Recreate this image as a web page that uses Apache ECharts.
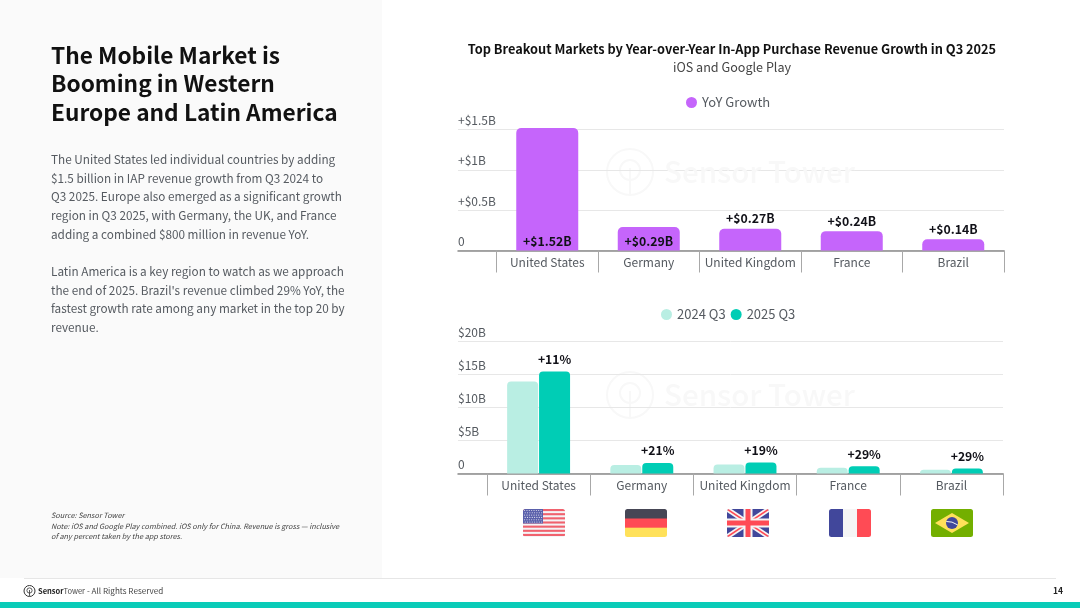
<!DOCTYPE html>
<html><head><meta charset="utf-8">
<style>html,body{margin:0;padding:0;background:#fff}#c{width:1080px;height:608px}</style>
<script src="https://cdn.jsdelivr.net/npm/echarts@6/dist/echarts.min.js"></script>
</head><body><div id="c"></div>
<script>
const FONT='"Noto Sans CJK SC","Noto Sans",sans-serif';
const categories=['United States','Germany','United Kingdom','France','Brazil'];
const yoyGrowth=[1.52,0.29,0.27,0.24,0.14];
const yoyInside=[true,true,false,false,false];
const revenue2024=[13.9,1.3,1.35,0.85,0.55];
const revenue2025=[15.4,1.6,1.65,1.1,0.75];
const growthPct=['+11%','+21%','+19%','+29%','+29%'];
const yoyTicks=['0','+$0.5B','+$1B','+$1.5B'];
const revTicks=['0','$5B','$10B','$15B','$20B'];
const headline=['The Mobile Market is','Booming in Western','Europe and Latin America'];
const body=[
 ['The United States led individual countries by adding',160],
 ['$1.5 billion in IAP revenue growth from Q3 2024 to',178.5],
 ['Q3 2025. Europe also emerged as a significant growth',197],
 ['region in Q3 2025, with Germany, the UK, and France',216],
 ['adding a combined $800 million in revenue YoY.',234.5],
 ['Latin America is a key region to watch as we approach',272],
 ['the end of 2025. Brazil\'s revenue climbed 29% YoY, the',290.5],
 ['fastest growth rate among any market in the top 20 by',309],
 ['revenue.',327.5]];
const notes=['Source: Sensor Tower','Note: iOS and Google Play combined. iOS only for China. Revenue is gross — inclusive','of any percent taken by the app stores.'];

const PURPLE='#c565fb',TEAL='#00cdb5',MINT='#b9eee3',INK='#555a60',DARK='#111118';

function txt(t,x,y,size,opt){return Object.assign({type:'text',silent:true,z:5,style:Object.assign({text:t,x:x,y:y,fontSize:size,fontFamily:FONT,fill:INK,verticalAlign:'middle',align:'left'},opt||{})});}
function svgUri(inner){return 'data:image/svg+xml;utf8,'+encodeURIComponent('<svg xmlns="http://www.w3.org/2000/svg" width="168" height="112" viewBox="0 0 42 28"><defs><clipPath id="r"><rect width="42" height="28" rx="2.5"/></clipPath></defs><g clip-path="url(#r)">'+inner+'</g></svg>');}
let usStripes='<rect width="42" height="28" fill="#f4f4f6"/>';
for(let i=0;i<7;i++)usStripes+='<rect y="'+(i*4.15)+'" width="42" height="2.1" fill="#f0626e"/>';
usStripes+='<rect width="20" height="14.5" fill="#5a60ab"/>';
for(let r=0;r<6;r++)for(let c=0;c<8;c++)usStripes+='<circle cx="'+(1.6+c*2.35+(r%2)*0.6)+'" cy="'+(1.5+r*2.3)+'" r=".55" fill="#e8e8f2"/>';
const flags=[
 usStripes,
 '<rect width="42" height="10" fill="#464655"/><rect y="9.5" width="42" height="9.5" fill="#ff4b55"/><rect y="18.7" width="42" height="9.5" fill="#ffe15a"/>',
 '<rect width="42" height="28" fill="#41479b"/><path d="M0 0L42 28M42 0L0 28" stroke="#f5f5f5" stroke-width="5"/><path d="M0 0L42 28M42 0L0 28" stroke="#ff4b55" stroke-width="1.6"/><rect x="16.5" width="9" height="28" fill="#f5f5f5"/><rect y="9.5" width="42" height="9" fill="#f5f5f5"/><rect x="18.5" width="5" height="28" fill="#ff4b55"/><rect y="11.5" width="42" height="5" fill="#ff4b55"/>',
 '<rect width="14" height="28" fill="#41479b"/><rect x="14" width="14" height="28" fill="#f5f5f5"/><rect x="28" width="14" height="28" fill="#ff4b55"/>',
 '<rect width="42" height="28" fill="#73af00"/><path d="M21 4L38 14L21 24L4 14Z" fill="#ffe15a"/><circle cx="21" cy="14" r="6" fill="#41479b"/><path d="M15.3 12.5Q21 12 26.8 16" stroke="#f5f5f5" stroke-width="1" fill="none"/>'
];
const flagX=[523,625,727,829,931];

const WM='#f8f8f8';
function watermark(y){return [
 {type:'circle',silent:true,z:0,shape:{cx:630,cy:y,r:23},style:{fill:'none',stroke:WM,lineWidth:2}},
 {type:'circle',silent:true,z:0,shape:{cx:630,cy:y-2,r:10},style:{fill:'none',stroke:WM,lineWidth:2}},
 {type:'line',silent:true,z:0,shape:{x1:630,y1:y-4,x2:630,y2:y+23},style:{stroke:WM,lineWidth:2}},
 txt('Sensor Tower',664,y,29.5,{fill:WM,fontWeight:500})
];}

const graphics=[
 {type:'rect',silent:true,z:-1,shape:{x:0,y:0,width:382,height:578},style:{fill:'#fafafa'}},
 {type:'line',silent:true,z:1,shape:{x1:24,y1:578.5,x2:1056,y2:578.5},style:{stroke:'#e6e6e6',lineWidth:1}},
 {type:'rect',silent:true,z:1,shape:{x:0,y:602,width:1080,height:6},style:{fill:'#0accb8'}},
 {type:'circle',silent:true,z:5,shape:{cx:29.5,cy:591,r:5.5},style:{fill:'none',stroke:'#333',lineWidth:1}},
 {type:'circle',silent:true,z:5,shape:{cx:29.5,cy:590.5,r:2.6},style:{fill:'none',stroke:'#333',lineWidth:0.8}},
 {type:'line',silent:true,z:5,shape:{x1:29.5,y1:590,x2:29.5,y2:596},style:{stroke:'#333',lineWidth:0.8}},
 txt('Sensor',38,591,7.5,{fill:'#222',fontWeight:700}),
 txt('Tower',63.5,591,7.5,{fill:'#444'}),
 txt('- All Rights Reserved',87,591,8.1,{fill:'#444'}),
 txt('14',1053,590.5,8.5,{fill:'#222',fontWeight:700}),
 ...watermark(172),...watermark(395)
];
headline.forEach((t,i)=>graphics.push(txt(t,51,55+i*28.5,22.7,{fill:'#111',fontWeight:700})));
body.forEach(b=>graphics.push(txt(b[0],51,b[1],11.75)));
notes.forEach((t,i)=>graphics.push(txt(t,51,515.5+i*10.5,7.3,{fontStyle:'italic',fill:'#444'})));
flags.forEach((f,i)=>graphics.push({type:'image',silent:true,z:5,style:{image:svgUri(f),x:flagX[i],y:509,width:42,height:28}}));

const LBL={fontFamily:FONT,fontSize:12,color:INK};
function backX(g){return {gridIndex:g,type:'category',data:[''],axisTick:{show:false},axisLabel:{show:false},axisLine:{show:true,lineStyle:{color:'#8a8a8a',width:1.5}}};}
function frontX(g){return {gridIndex:g,type:'category',data:categories,axisLine:{show:false},axisTick:{show:true,length:22,lineStyle:{color:'#a8a8a8',width:1}},axisLabel:Object.assign({margin:6,interval:0},LBL)};}
function backY(g,max,interval,ticks){return {gridIndex:g,type:'value',min:0,max:max,interval:interval,axisLine:{show:false},axisTick:{show:false},
 splitLine:{show:true,lineStyle:{color:'#e7e7e7',width:1}},
 axisLabel:Object.assign({inside:true,margin:0,verticalAlign:'bottom',padding:[0,0,3,0],formatter:(v,i)=>ticks[i]},LBL)};}
function frontY(g,max,interval){return {gridIndex:g,type:'value',min:0,max:max,interval:interval,show:false};}

const option={
 animation:false,
 textStyle:{fontFamily:FONT},
 title:{left:727,top:38,textAlign:'center',text:'Top Breakout Markets by Year-over-Year In-App Purchase Revenue Growth in Q3 2025',subtext:'iOS and Google Play',itemGap:5,
  textStyle:{fontFamily:FONT,fontSize:12.75,fontWeight:700,color:'#111'},subtextStyle:{fontFamily:FONT,fontSize:12.6,color:'#444'}},
 legend:[
  {data:['YoY Growth'],left:681,top:91,icon:'circle',itemWidth:11,itemHeight:11,itemGap:6,textStyle:Object.assign({},LBL,{fontSize:13})},
  {data:['2024 Q3','2025 Q3'],left:656,top:303,icon:'circle',itemWidth:11,itemHeight:11,itemGap:5,textStyle:Object.assign({},LBL,{fontSize:13})}
 ],
 grid:[
  {left:458,top:129.5,width:546,height:121},
  {left:496.5,top:129.5,width:507.5,height:121},
  {left:458,top:341,width:545,height:132.5},
  {left:487,top:341,width:516,height:132.5}
 ],
 xAxis:[backX(0),frontX(1),backX(2),frontX(3)],
 yAxis:[backY(0,1.5,0.5,yoyTicks),frontY(1,1.5,0.5),backY(2,20,5,revTicks),frontY(3,20,5)],
 series:[
  {name:'YoY Growth',type:'bar',xAxisIndex:1,yAxisIndex:1,barWidth:62,clip:false,
   itemStyle:{color:PURPLE,borderRadius:[5,5,0,0]},
   data:yoyGrowth.map((v,i)=>({value:v,label:{show:true,position:yoyInside[i]?'insideBottom':'top',distance:yoyInside[i]?3:4,
     formatter:'+$'+v.toFixed(2)+'B',fontFamily:FONT,fontSize:12.3,fontWeight:700,color:DARK}}))},
  {name:'2024 Q3',type:'bar',xAxisIndex:3,yAxisIndex:3,barWidth:31,barGap:'3%',itemStyle:{color:MINT,borderRadius:[4,4,0,0]},data:revenue2024},
  {name:'2025 Q3',type:'bar',xAxisIndex:3,yAxisIndex:3,barWidth:31,barGap:'3%',itemStyle:{color:TEAL,borderRadius:[4,4,0,0]},
   data:revenue2025.map((v,i)=>({value:v,label:{show:true,position:'top',distance:6,formatter:growthPct[i],fontFamily:FONT,fontSize:12.2,fontWeight:700,color:DARK}}))}
 ],
 graphic:graphics
};
echarts.init(document.getElementById('c'),null,{renderer:'canvas'}).setOption(option);
</script></body></html>
